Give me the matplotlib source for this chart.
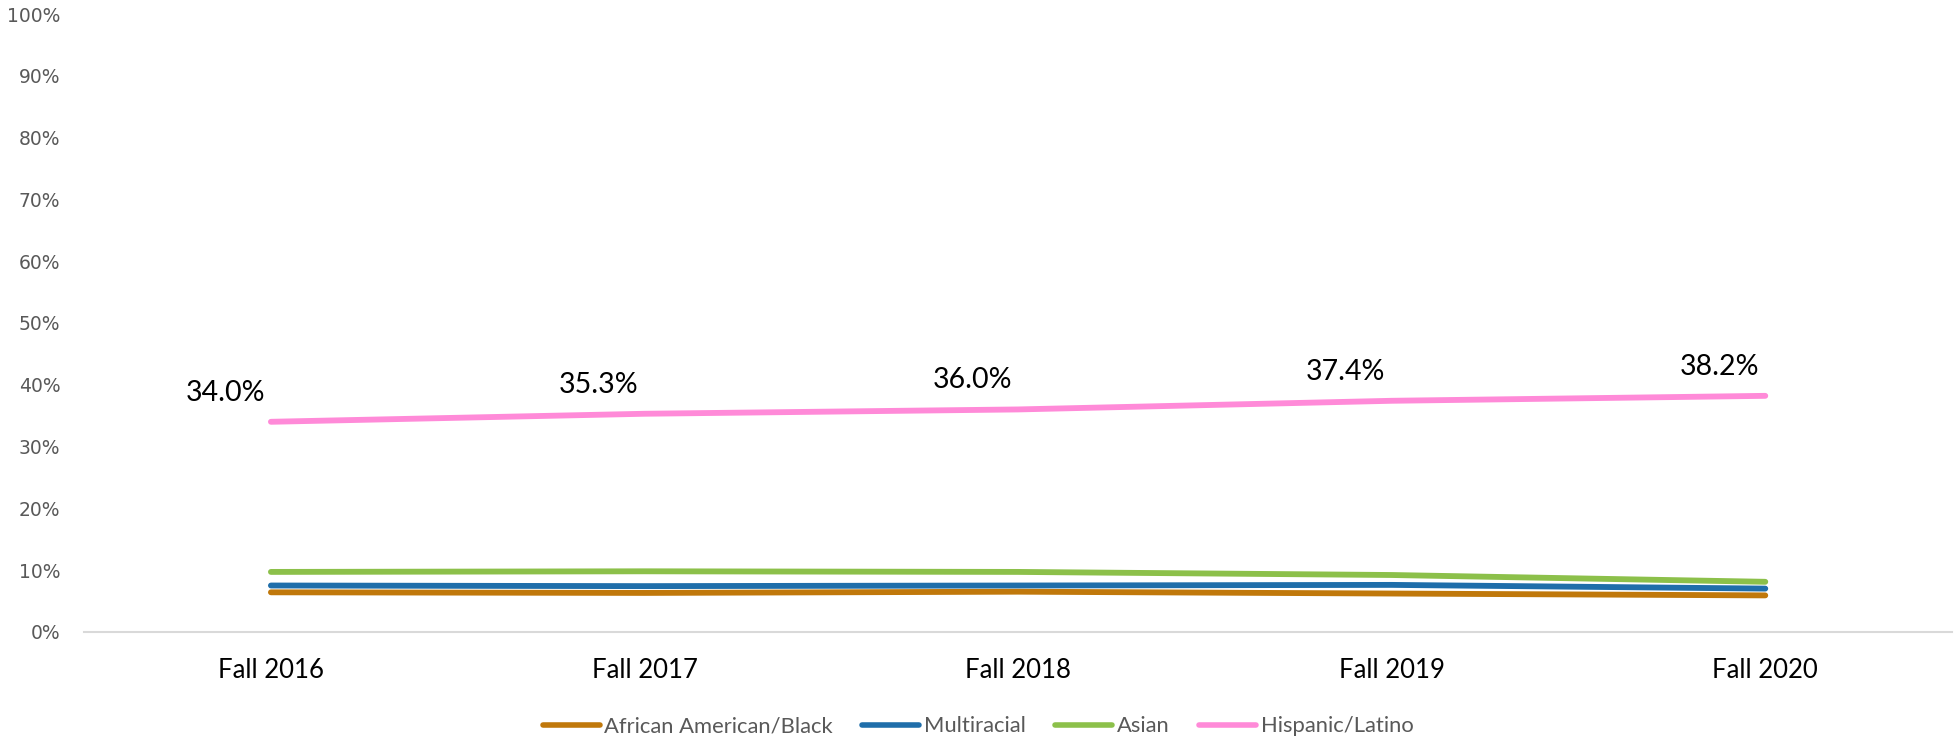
import matplotlib
matplotlib.use("Agg")
import matplotlib.pyplot as plt
from matplotlib.ticker import PercentFormatter

# data
terms = ["Fall 2016", "Fall 2017", "Fall 2018", "Fall 2019", "Fall 2020"]
black = [6.4, 6.3, 6.5, 6.2, 5.9]
multiracial = [7.5, 7.4, 7.5, 7.6, 7.0]
asian = [9.7, 9.8, 9.7, 9.2, 8.1]
hispanic = [34.0, 35.3, 36.0, 37.4, 38.2]

series = [
    ("African American/Black", black, "#C0780B"),
    ("Multiracial", multiracial, "#1F6EAA"),
    ("Asian", asian, "#8CC04A"),
    ("Hispanic/Latino", hispanic, "#FF8AD8"),
]

fig = plt.figure(figsize=(19.56, 7.39), dpi=100)
ax = fig.add_axes([0.043, 0.145, 0.955, 0.836])

x = list(range(len(terms)))
for name, vals, col in series:
    ax.plot(x, vals, color=col, linewidth=4.2, solid_capstyle="round", label=name)

# data labels for Hispanic/Latino, sitting up and to the left of each point
for xi, v in zip(x, hispanic):
    ax.annotate(f"{v:.1f}%", (xi, v), xytext=(-33, 21), textcoords="offset points",
                ha="center", va="center", fontsize=20.5, family="Lato", color="black")

ax.set_xlim(-0.5, 4.5)
ax.set_ylim(0, 100)
ax.set_yticks(range(0, 101, 10))
ax.yaxis.set_major_formatter(PercentFormatter(decimals=0))
ax.set_xticks(x)
ax.set_xticklabels(terms, fontsize=18.5, family="Lato", color="black")

for s in ["top", "right", "left"]:
    ax.spines[s].set_visible(False)
ax.spines["bottom"].set_color("#D9D9D9")
ax.spines["bottom"].set_linewidth(1.5)
ax.tick_params(axis="both", length=0)
ax.tick_params(axis="y", labelsize=13.5, labelcolor="#595959", pad=17)
ax.tick_params(axis="x", pad=19)

leg = fig.legend(loc="center", bbox_to_anchor=(0.5, 0.017), ncol=4, frameon=False,
                 prop={"family": "Lato", "size": 15.8}, handlelength=2.6,
                 handletextpad=0.2, columnspacing=1.35, labelcolor="#595959")
for h in leg.get_lines():
    h.set_linewidth(4)

fig.savefig("out.png", dpi=100)
